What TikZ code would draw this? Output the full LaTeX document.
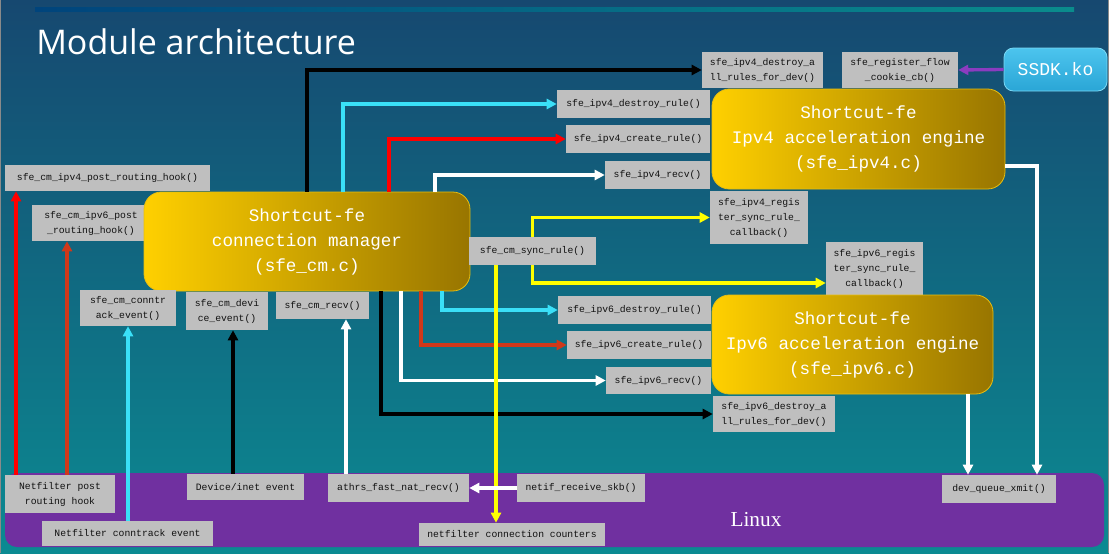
\documentclass[tikz,border=0pt]{standalone}
\usepackage{fontspec}
\setmainfont{Liberation Serif}
\setsansfont{Open Sans}
\setmonofont{Liberation Mono}
\usetikzlibrary{arrows.meta,calc}

\definecolor{bgTop}{HTML}{164870}
\definecolor{bgBot}{HTML}{0B8A92}
\definecolor{gboxc}{HTML}{BFBFBF}
\definecolor{goldL}{HTML}{FFD000}
\definecolor{goldR}{HTML}{987500}
\definecolor{goldB}{HTML}{E8BE10}
\definecolor{cyanL}{HTML}{3AE0F8}
\definecolor{redL}{HTML}{FF0000}
\definecolor{orgL}{HTML}{D0381A}
\definecolor{yelL}{HTML}{FFFF00}
\definecolor{purL}{HTML}{7030A0}
\definecolor{purA}{HTML}{8A3CC0}
\definecolor{ssdkT}{HTML}{4CC4EE}
\definecolor{ssdkB}{HTML}{2AA6D6}
\definecolor{ssdkE}{HTML}{7AD8F4}
\definecolor{lineL}{HTML}{00447C}
\definecolor{lineR}{HTML}{0A8C8C}
\definecolor{frameG}{HTML}{8A8A8A}
\definecolor{txtG}{HTML}{111111}

\begin{document}
\begin{tikzpicture}[x=0.75pt,y=-0.75pt,
  sz/.style 2 args={minimum width=#1*0.75pt, minimum height=#2*0.75pt},
  gbox/.style={fill=gboxc, inner sep=0pt, align=center, text=txtG,
    font=\fontsize{7.3}{11.25}\selectfont\ttfamily},
  engine/.style={rounded corners=13pt, draw=goldB, line width=0.6pt,
    left color=goldL, right color=goldR, align=center, text=white,
    inner sep=0pt, font=\fontsize{13.2}{18.75}\selectfont\ttfamily},
  conn/.style={line width=2.5pt, -{Triangle[length=7.5pt,width=7.5pt]}},
  wconn/.style={line width=2.4pt, white, -{Triangle[length=7.5pt,width=7.5pt]}}
]
\useasboundingbox (0,0) rectangle (1109,553);
% background
\shade[top color=bgTop, bottom color=bgBot] (0,0) rectangle (1109,553);
\draw[frameG, line width=0.75pt] (0.5,0) -- (0.5,553);
\draw[frameG, line width=0.75pt] (1108.5,0) -- (1108.5,553);
\shade[left color=lineL, right color=lineR] (35,7) rectangle (1074,11);
\node[anchor=base west, inner sep=0pt, text=white,
  font=\sffamily\fontsize{25.5}{30}\selectfont] (title) at (36,54) {Module architecture};

% Linux box
\node[fill=purL, rounded corners=9pt, sz={1099}{74}, inner sep=0pt] (linux) at (554.5,510) {};
\node[text=white, inner sep=0pt, font=\rmfamily\fontsize{16}{18}\selectfont] (linuxlbl) at (756,520) {Linux};

% top boxes
\node[gbox, sz={121}{36}] (a4all) at (762.5,70) {sfe\_ipv4\_destroy\_a\\ll\_rules\_for\_dev()};
\node[gbox, sz={116}{36}] (reg) at (900,70) {sfe\_register\_flow\\\_cookie\_cb()};
\node[rounded corners=7pt, top color=ssdkT, bottom color=ssdkB, draw=ssdkE, line width=0.6pt,
  sz={103}{43}, inner sep=0pt, text=white, font=\fontsize{13.5}{15}\selectfont\ttfamily] (ssdk) at (1055.5,69.5) {SSDK.ko};
\node[gbox, sz={153}{28}] (d4) at (633.5,104) {sfe\_ipv4\_destroy\_rule()};
\node[gbox, sz={144}{28}] (c4) at (638,139) {sfe\_ipv4\_create\_rule()};
\node[gbox, sz={105}{28}] (r4) at (657.5,175) {sfe\_ipv4\_recv()};
\node[engine, sz={293}{100}] (eng4) at (858.5,139) {Shortcut-fe\\Ipv4 acceleration engine\\(sfe\_ipv4.c)};

% left boxes
\node[gbox, sz={205}{26}] (post4) at (107.5,178) {sfe\_cm\_ipv4\_post\_routing\_hook()};
\node[gbox, sz={118}{36}, text width=104*0.75pt] (post6) at (91,223) {sfe\_cm\_ipv6\_post\\\_routing\_hook()};
\node[engine, sz={326}{99}] (cm) at (307,241.5) {Shortcut-fe\\connection manager\\(sfe\_cm.c)};
\node[gbox, sz={96}{36}] (ct) at (128,308) {sfe\_cm\_conntr\\ack\_event()};
\node[gbox, sz={82}{38}] (dev) at (227,311) {sfe\_cm\_devi\\ce\_event()};
\node[gbox, sz={93}{27}] (cmrecv) at (322.5,305.5) {sfe\_cm\_recv()};

% middle boxes
\node[gbox, sz={127}{28}] (sync) at (532.5,251) {sfe\_cm\_sync\_rule()};
\node[gbox, sz={98}{53}] (reg4) at (759,217.5) {sfe\_ipv4\_regis\\ter\_sync\_rule\_\\callback()};
\node[gbox, sz={97}{53}] (reg6) at (874.5,268.5) {sfe\_ipv6\_regis\\ter\_sync\_rule\_\\callback()};
\node[gbox, sz={153}{28}] (d6) at (634.5,310) {sfe\_ipv6\_destroy\_rule()};
\node[gbox, sz={144}{28}] (c6) at (639,345) {sfe\_ipv6\_create\_rule()};
\node[gbox, sz={105}{27}] (r6) at (658.5,380.5) {sfe\_ipv6\_recv()};
\node[engine, sz={281}{99}] (eng6) at (852.5,344.5) {Shortcut-fe\\Ipv6 acceleration engine\\(sfe\_ipv6.c)};
\node[gbox, sz={122}{36}] (a6all) at (774,414) {sfe\_ipv6\_destroy\_a\\ll\_rules\_for\_dev()};

% bottom boxes
\node[gbox, sz={110}{38}] (nfpost) at (60,494) {Netfilter post\\routing hook};
\node[gbox, sz={117}{26}] (devinet) at (245.5,487) {Device/inet event};
\node[gbox, sz={141}{28}] (athrs) at (398.5,488) {athrs\_fast\_nat\_recv()};
\node[gbox, sz={128}{28}] (netif) at (581,488) {netif\_receive\_skb()};
\node[gbox, sz={171}{25}] (ctev) at (127.5,533.5) {Netfilter conntrack event};
\node[gbox, sz={186}{23}] (nfcount) at (512,534.5) {netfilter connection counters};
\node[gbox, sz={114}{28}] (xmit) at (999,489) {dev\_queue\_xmit()};

% column coordinates
\coordinate (cC1) at (343,0);
\coordinate (cR1) at (389,0);
\coordinate (cW1) at (435,0);
\coordinate (cK2) at (381,0);
\coordinate (cW2) at (401,0);
\coordinate (cO2) at (421,0);
\coordinate (cC2) at (442,0);
\coordinate (cY) at (496,0);
\coordinate (cP4) at (16,0);
\coordinate (cP6) at (67,0);
\coordinate (cCt) at (128,0);
\coordinate (cDv) at (233,0);
\coordinate (cAt) at (346,0);
\coordinate (cX6) at (968,0);
\coordinate (k1) at (1037,166);
\coordinate (kY6) at (0,283);

% connectors from connection manager, top
\draw[conn, black] (cm.north) |- (a4all.west);
\draw[conn, cyanL] (cm.north -| cC1) |- (d4.west);
\draw[conn, redL] (cm.north -| cR1) |- (c4.west);
\draw[wconn] (cm.north -| cW1) |- (r4.west);
% bottom
\draw[conn, black] (cm.south -| cK2) |- (a6all.west);
\draw[wconn] (cm.south -| cW2) |- (r6.west);
\draw[conn, orgL] (cm.south -| cO2) |- (c6.west);
\draw[conn, cyanL] (cm.south -| cC2) |- (d6.west);
% sync rule
\draw[conn, yelL] (sync.north) |- (reg4.west);
\draw[conn, yelL] (sync.south) |- (kY6 -| reg6.west);
\draw[conn, yelL] (sync.south -| cY) -- (nfcount.north -| cY);
% engines to xmit
\draw[wconn] (k1 -| eng4.east) -- (k1) -- (k1 |- xmit.north);
\draw[wconn] (eng6.south -| cX6) -- (xmit.north -| cX6);
% upward from Linux
\draw[conn, redL] (nfpost.north -| cP4) -- (post4.south -| cP4);
\draw[conn, orgL] (nfpost.north -| cP6) -- (post6.south -| cP6);
\draw[conn, cyanL] (ctev.north -| cCt) -- (ct.south -| cCt);
\draw[conn, black] (devinet.north -| cDv) -- (dev.south -| cDv);
\draw[wconn] (athrs.north -| cAt) -- (cmrecv.south -| cAt);
\draw[wconn] (netif.west) -- (athrs.east);
\draw[conn, purA] (ssdk.west) -- (reg.east);
\end{tikzpicture}
\end{document}
